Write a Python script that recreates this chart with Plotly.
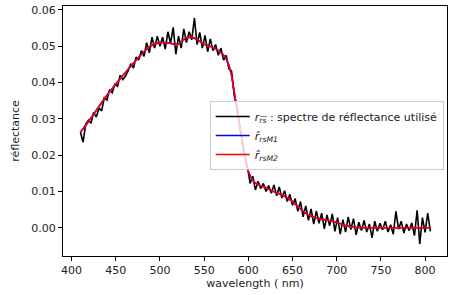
import plotly.graph_objects as go

# measured spectrum (3 nm steps)
wl_meas = list(range(410, 807, 3))
rrs_meas = [
    0.0263, 0.0236, 0.0285, 0.0296, 0.0288, 0.0318, 0.0305, 0.0330, 0.0322, 0.0358,
    0.0352, 0.0380, 0.0372, 0.0395, 0.0390, 0.0420, 0.0408, 0.0418, 0.0432, 0.0452,
    0.0440, 0.0470, 0.0462, 0.0488, 0.0472, 0.0510, 0.0482, 0.0525, 0.0495, 0.0528,
    0.0500, 0.0525, 0.0492, 0.0540, 0.0508, 0.0552, 0.0478, 0.0528, 0.0495, 0.0548,
    0.0510, 0.0540, 0.0518, 0.0578, 0.0505, 0.0538, 0.0495, 0.0530, 0.0485, 0.0520,
    0.0488, 0.0505, 0.0475, 0.0495, 0.0462, 0.0475, 0.0438, 0.0432, 0.0365, 0.0335,
    0.0285, 0.0245, 0.0195, 0.0168, 0.0122, 0.0142, 0.0104, 0.0128, 0.0108, 0.0122,
    0.0100, 0.0116, 0.0095, 0.0118, 0.0088, 0.0112, 0.0082, 0.0102, 0.0072, 0.0092,
    0.0062, 0.0080, 0.0045, 0.0072, 0.0030, 0.0060, 0.0020, 0.0052, 0.0010, 0.0046,
    0.0012, 0.0040, -0.0003, 0.0035, 0.0005, 0.0038, -0.0010, 0.0028, -0.0018, 0.0022,
    -0.0012, 0.0030, -0.0005, 0.0025, -0.0020, 0.0015, -0.0008, 0.0020, -0.0012, 0.0010,
    -0.0028, 0.0018, -0.0010, 0.0012, -0.0006, 0.0018, -0.0012, 0.0008, -0.0018, 0.0045,
    -0.0004, 0.0018, -0.0015, 0.0010, -0.0008, 0.0013, -0.0022, 0.0048, -0.0045, 0.0028,
    -0.0013, 0.0040, -0.0010,
]

# modelled spectra
wl_model = [410, 420, 430, 440, 450, 460, 470, 480, 490, 500, 510, 520, 530, 540, 550,
            560, 570, 575, 580, 585, 590, 595, 600, 605, 610, 620, 630, 640, 650, 660,
            670, 680, 690, 700, 710, 720, 740, 760, 780, 806]
rrs_m1 = [0.0263, 0.0296, 0.0331, 0.0365, 0.0396, 0.0425, 0.0453, 0.0480, 0.0501, 0.0510,
          0.0509, 0.0505, 0.0523, 0.0521, 0.0506, 0.0497, 0.0481, 0.0465, 0.0431, 0.0359,
          0.0285, 0.0211, 0.0156, 0.0130, 0.0120, 0.0110, 0.0098, 0.0088, 0.0072, 0.0050,
          0.0032, 0.0025, 0.0020, 0.0015, 0.0006, 0.0001, 0.0000, 0.0000, 0.0000, 0.0000]
rrs_m2 = [0.0263, 0.0295, 0.0330, 0.0365, 0.0395, 0.0425, 0.0453, 0.0480, 0.0502, 0.0510,
          0.0509, 0.0504, 0.0524, 0.0522, 0.0505, 0.0497, 0.0480, 0.0465, 0.0430, 0.0358,
          0.0285, 0.0210, 0.0155, 0.0130, 0.0120, 0.0110, 0.0098, 0.0088, 0.0072, 0.0050,
          0.0032, 0.0025, 0.0020, 0.0015, 0.0006, 0.0001, 0.0000, 0.0000, 0.0000, 0.0000]

x_ticks = [400, 450, 500, 550, 600, 650, 700, 750, 800]
y_ticks = [0.00, 0.01, 0.02, 0.03, 0.04, 0.05, 0.06]

names = [
    "<i>r<sub>r͞s</sub></i> : spectre de réflectance utilisé",
    "<i>r̂<sub>rsM1</sub></i>",
    "<i>r̂<sub>rsM2</sub></i>",
]

fig = go.Figure()
fig.add_trace(go.Scatter(x=wl_meas, y=rrs_meas, mode="lines", name=names[0],
                         line=dict(color="black", width=1.6)))
fig.add_trace(go.Scatter(x=wl_model, y=rrs_m1, mode="lines", name=names[1],
                         line=dict(color="blue", width=1.6, shape="spline")))
fig.add_trace(go.Scatter(x=wl_model, y=rrs_m2, mode="lines", name=names[2],
                         line=dict(color="red", width=1.6, shape="spline")))

axis_common = dict(showline=True, linecolor="black", linewidth=1, mirror=True,
                   ticks="outside", ticklen=4, tickcolor="black", tickwidth=1,
                   showgrid=False, zeroline=False,
                   tickfont=dict(family="DejaVu Sans", size=11, color="#222"))

fig.update_layout(
    width=451, height=295,
    margin=dict(l=63, r=4, t=6, b=39),
    paper_bgcolor="white", plot_bgcolor="white",
    font=dict(family="DejaVu Sans", size=11, color="#222"),
    xaxis=dict(range=[390.3, 824.8], tickvals=x_ticks,
               title=dict(text="wavelength ( nm)", standoff=3,
                          font=dict(family="DejaVu Sans", size=11)),
               **axis_common),
    yaxis=dict(range=[-0.0078, 0.0611], tickvals=y_ticks, tickformat=".2f",
               title=dict(text="réflectance", standoff=9,
                          font=dict(family="DejaVu Sans", size=11)),
               **axis_common),
    legend=dict(x=0.382, y=0.62, xanchor="left", yanchor="top",
                bgcolor="rgba(255,255,255,0.8)", bordercolor="#cccccc", borderwidth=1,
                font=dict(family="DejaVu Sans", size=11, color="#222"),
                tracegroupgap=0, itemwidth=34),
    showlegend=True,
)

fig.write_html("out.html",
               config={"displayModeBar": False},
               post_script="document.body.style.margin='0';document.body.style.overflow='hidden';")
